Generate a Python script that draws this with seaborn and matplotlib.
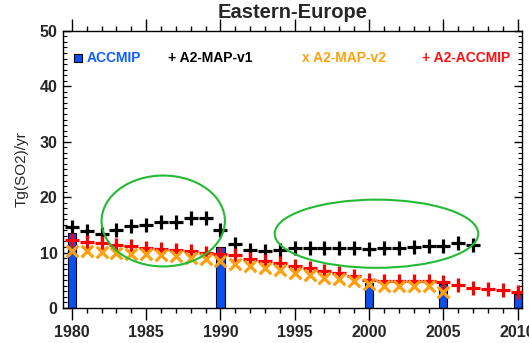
import seaborn as sns
import matplotlib.pyplot as plt
import pandas as pd
from matplotlib.patches import Ellipse
from matplotlib.ticker import MultipleLocator

# ACCMIP inventory (bars)
accmip_years = [1980, 1990, 2000, 2005, 2010]
accmip_vals = [13.5, 11.0, 4.5, 4.4, 2.5]

# A2-MAP-v1 (black +)
map_v1_years = list(range(1980, 2008))
map_v1_vals = [14.6, 13.9, 13.4, 14.1, 14.8, 15.0, 15.6, 15.6, 16.3, 16.2,
               14.1, 11.5, 10.5, 10.2, 10.5, 10.9, 10.9, 10.9, 10.9, 10.9,
               10.6, 10.9, 10.9, 11.0, 11.1, 11.1, 11.7, 11.4]

# A2-MAP-v2 (orange x)
map_v2_years = list(range(1980, 2006))
map_v2_vals = [10.3, 10.2, 10.1, 10.0, 9.8, 9.7, 9.5, 9.3, 9.1, 8.8,
               8.4, 7.9, 7.6, 7.2, 6.9, 6.4, 6.0, 5.5, 5.2, 4.8,
               4.3, 4.0, 3.9, 3.9, 3.9, 2.9]

# A2-ACCMIP (red +)
a2_accmip_years = list(range(1980, 2011))
a2_accmip_vals = [12.2, 11.9, 11.7, 11.4, 11.1, 10.9, 10.6, 10.4, 10.2, 10.0,
                  9.8, 9.6, 8.8, 8.5, 8.1, 7.6, 7.2, 6.7, 6.3, 5.7,
                  5.0, 4.9, 4.8, 4.8, 4.8, 4.7, 4.2, 3.7, 3.4, 3.2, 2.8]

sns.set_style("white")
plt.rcParams['font.family'] = ['Liberation Sans', 'DejaVu Sans']

fig = plt.figure(figsize=(5.29, 3.43), dpi=100)
ax = fig.add_axes([0.119, 0.102, 0.868, 0.808])

ax.bar(accmip_years, accmip_vals, width=0.55, color='#0a50f0',
       edgecolor='black', linewidth=0.8, zorder=2)

df_v1 = pd.DataFrame({'year': map_v1_years, 'val': map_v1_vals})
df_v2 = pd.DataFrame({'year': map_v2_years, 'val': map_v2_vals})
df_a2 = pd.DataFrame({'year': a2_accmip_years, 'val': a2_accmip_vals})

sns.scatterplot(data=df_v1, x='year', y='val', marker='+', s=110,
                color='black', linewidth=2.3, ax=ax, zorder=3)
sns.scatterplot(data=df_a2, x='year', y='val', marker='+', s=110,
                color='#ff0000', linewidth=2.3, ax=ax, zorder=4)
sns.scatterplot(data=df_v2, x='year', y='val', marker='x', s=70,
                color='#ffa010', linewidth=2.3, ax=ax, zorder=5)

# green highlight ellipses
ax.add_patch(Ellipse((1986.15, 15.7), 8.3, 16.4, fill=False,
                     edgecolor='#22bb33', linewidth=1.5, zorder=6))
ax.add_patch(Ellipse((2000.5, 13.4), 13.7, 12.3, fill=False,
                     edgecolor='#22bb33', linewidth=1.5, zorder=6))

# legend as coloured text
ax.scatter([1980.4], [45.1], marker='s', s=40, color='#0a50f0',
           edgecolor='black', linewidth=0.8, zorder=6)
ax.text(1981.0, 45.1, 'ACCMIP', color='#1060ff', fontsize=10,
        fontweight='bold', va='center')
ax.text(1986.5, 45.1, '+ A2-MAP-v1', color='black', fontsize=10,
        fontweight='bold', va='center')
ax.text(1995.5, 45.1, 'x A2-MAP-v2', color='#ffa010', fontsize=10,
        fontweight='bold', va='center')
ax.text(2003.55, 45.1, '+ A2-ACCMIP', color='#ff1010', fontsize=10,
        fontweight='bold', va='center')

ax.set_xlim(1979.4, 2010.3)
ax.set_ylim(0, 50)
ax.xaxis.set_major_locator(MultipleLocator(5))
ax.xaxis.set_minor_locator(MultipleLocator(1))
ax.yaxis.set_major_locator(MultipleLocator(10))
ax.yaxis.set_minor_locator(MultipleLocator(1))
ax.tick_params(axis='x', which='both', direction='out', top=True,
               bottom=True, color='black')
ax.tick_params(axis='x', which='major', length=8.5, width=1, pad=4)
ax.tick_params(axis='x', which='minor', length=3.6, width=1)
ax.tick_params(axis='y', which='both', direction='in', left=True,
               right=True, color='black')
ax.tick_params(axis='y', which='major', length=6, width=1, pad=4)
ax.tick_params(axis='y', which='minor', length=3, width=0.8)
for lbl in ax.get_xticklabels() + ax.get_yticklabels():
    lbl.set_fontweight('bold')
    lbl.set_fontsize(11.5)
for sp in ax.spines.values():
    sp.set_color('black')
    sp.set_linewidth(1)

ax.set_title('Eastern-Europe', fontsize=14.5, fontweight='bold', pad=9)
ax.set_xlabel('')
ax.set_ylabel('Tg(SO2)/yr', fontsize=11, labelpad=8)

fig.savefig('out.png', dpi=100)
